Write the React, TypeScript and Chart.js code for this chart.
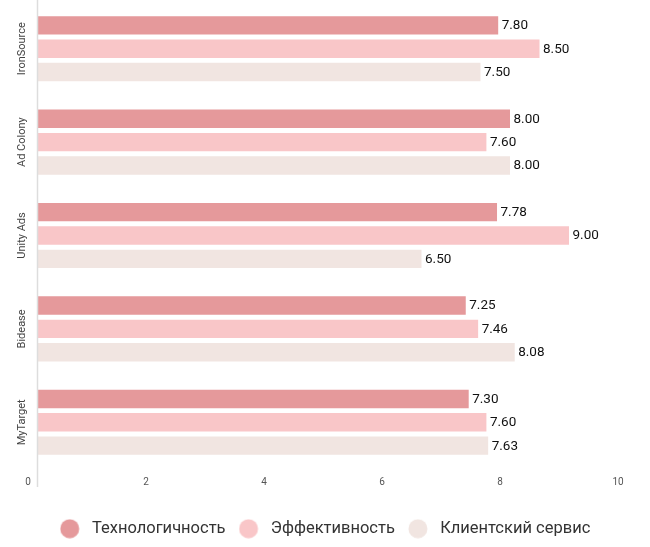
import React, { useEffect, useRef } from "react";
import { Chart, registerables } from "chart.js";

Chart.register(...registerables);

const categories = ["IronSource", "Ad Colony", "Unity Ads", "Bidease", "MyTarget"];
const seriesNames = ["Технологичность", "Эффективность", "Клиентский сервис"];
const techValues = [7.8, 8.0, 7.78, 7.25, 7.3];
const effValues = [8.5, 7.6, 9.0, 7.46, 7.6];
const serviceValues = [7.5, 8.0, 6.5, 8.08, 7.63];
const seriesColors = ["#E5999B", "#F9C6C8", "#F1E5E1"];
const xMin = 0;
const xMax = 10;
const xStep = 2;

function makeDot(color: string): HTMLCanvasElement {
  const c = document.createElement("canvas");
  c.width = 24;
  c.height = 20;
  const ctx = c.getContext("2d")!;
  ctx.fillStyle = color;
  ctx.beginPath();
  ctx.arc(10, 10, 9.5, 0, Math.PI * 2);
  ctx.fill();
  return c;
}

const overlayPlugin = {
  id: "overlay",
  afterDatasetsDraw(chart: any) {
    const ctx = chart.ctx;
    const yScale = chart.scales.y;
    const area = chart.chartArea;
    ctx.save();
    // y axis line
    ctx.strokeStyle = "#DDDDDD";
    ctx.lineWidth = 1.5;
    ctx.beginPath();
    ctx.moveTo(area.left - 0.5, 0);
    ctx.lineTo(area.left - 0.5, area.bottom + 18);
    ctx.stroke();
    // category labels (rotated)
    ctx.fillStyle = "#444444";
    ctx.font = "11px Roboto";
    ctx.textAlign = "center";
    ctx.textBaseline = "middle";
    categories.forEach((cat, i) => {
      const y = yScale.getPixelForValue(i);
      ctx.save();
      ctx.translate(22, y);
      ctx.rotate(-Math.PI / 2);
      ctx.fillText(cat, 0, 0);
      ctx.restore();
    });
    // value labels
    ctx.fillStyle = "#111111";
    ctx.font = "13.5px Roboto";
    ctx.textAlign = "left";
    chart.data.datasets.forEach((ds: any, di: number) => {
      const meta = chart.getDatasetMeta(di);
      meta.data.forEach((bar: any, i: number) => {
        const v = ds.data[i];
        ctx.fillText(Number(v).toFixed(2), bar.x + 3.5, bar.y + 0.5);
      });
    });
    ctx.restore();
  },
};

export default function App() {
  const ref = useRef<HTMLCanvasElement | null>(null);
  useEffect(() => {
    document.body.style.margin = "0";
    const dots = seriesColors.map(makeDot);
    const chart = new Chart(ref.current!, {
      type: "bar",
      data: {
        labels: categories,
        datasets: [
          { label: seriesNames[0], data: techValues, backgroundColor: seriesColors[0] },
          { label: seriesNames[1], data: effValues, backgroundColor: seriesColors[1] },
          { label: seriesNames[2], data: serviceValues, backgroundColor: seriesColors[2] },
        ],
      },
      options: {
        indexAxis: "y",
        animation: false,
        responsive: false,
        maintainAspectRatio: false,
        datasets: { bar: { categoryPercentage: 0.75, barPercentage: 0.79 } },
        layout: { padding: { left: 0, right: 0, top: 2, bottom: 0 } },
        scales: {
          x: {
            min: xMin,
            max: xMax,
            ticks: {
              stepSize: xStep,
              padding: -1,
              labelOffset: -10,
              color: "#555555",
              font: { family: "Roboto", size: 10 },
            },
            grid: { display: false },
            border: { display: false },
            afterFit: (axis: any) => {
              axis.height = 38.5;
            },
          },
          y: {
            display: true,
            ticks: { display: false },
            grid: { display: false },
            border: { display: false },
            afterFit: (axis: any) => {
              axis.width = 38;
            },
          },
          y2: {
            type: "linear",
            position: "right",
            display: true,
            ticks: { display: false },
            grid: { display: false },
            border: { display: false },
            afterFit: (axis: any) => {
              axis.width = 22;
            },
          },
        },
        plugins: {
          tooltip: { enabled: false },
          legend: {
            position: "bottom",
            labels: {
              usePointStyle: true,
              pointStyleWidth: 24,
              boxHeight: 16.5,
              padding: 13,
              color: "#333333",
              font: { family: "Roboto", size: 16.5 },
              generateLabels: (ch: any) => {
                const items = (Chart as any).defaults.plugins.legend.labels.generateLabels(ch);
                return items.map((it: any, i: number) => ({ ...it, pointStyle: dots[i] }));
              },
            },
          },
        },
      },
      plugins: [overlayPlugin],
    });
    return () => chart.destroy();
  }, []);
  return (
    <div style={{ width: 650, height: 547 }}>
      <canvas ref={ref} width={650} height={547} style={{ display: "block" }} />
    </div>
  );
}
